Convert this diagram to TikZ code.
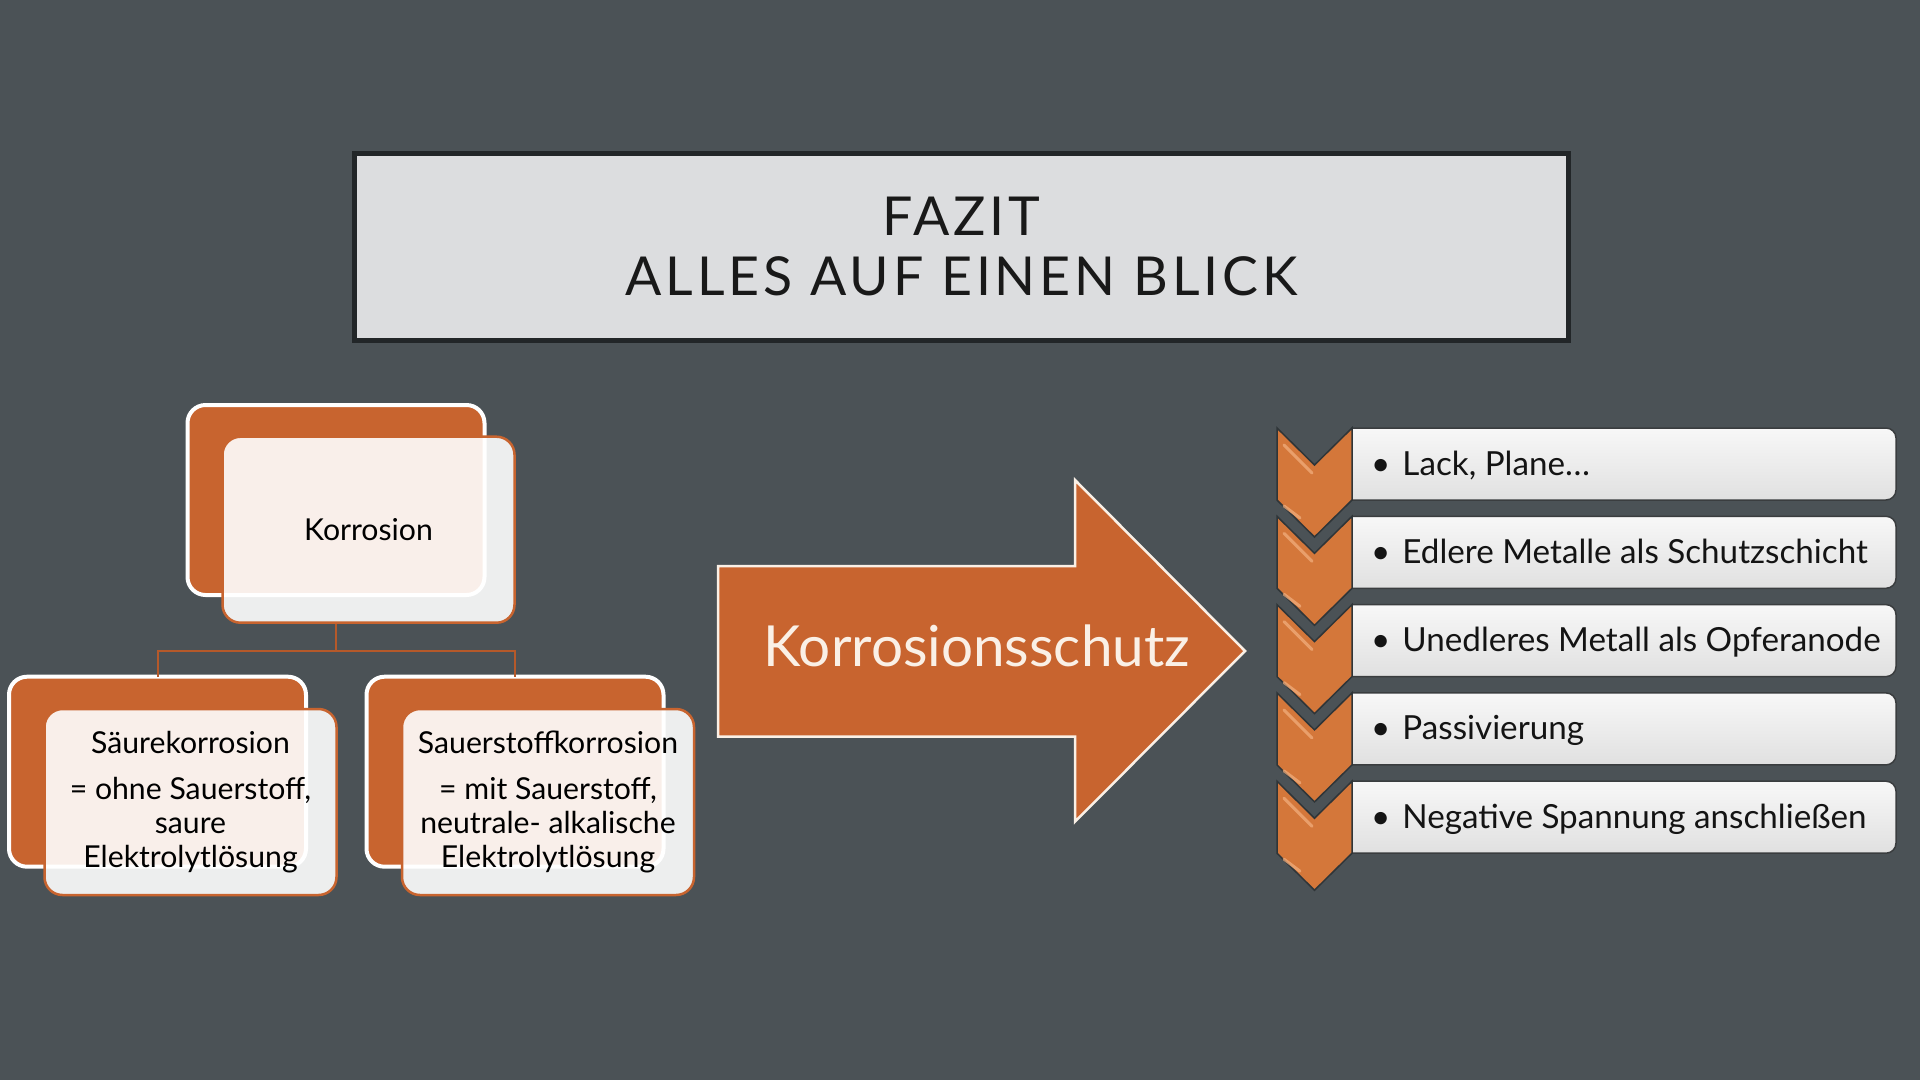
\documentclass[tikz,border=0pt]{standalone}
\usepackage{fontspec}
\setmainfont{Lato}
\newfontfamily\titlefont[LetterSpace=7.2]{Lato}
\usetikzlibrary{calc}
\definecolor{bg}{HTML}{4B5256}
\definecolor{orng}{HTML}{C8642F}
\definecolor{chev}{HTML}{D4773A}
\definecolor{chevlight}{HTML}{F2B080}
\definecolor{chevedge}{HTML}{2F3538}
\definecolor{titlefill}{HTML}{DCDDDF}
\definecolor{titleedge}{HTML}{222628}
\definecolor{conncol}{HTML}{B5592A}
\definecolor{cream}{HTML}{FAF0E6}
\definecolor{listedge}{HTML}{3A3D3F}
\tikzset{
  backbox/.style={draw=white, line width=4, fill=orng, rounded corners=18,
    inner sep=0, minimum width=297, minimum height=190},
  frontbox/.style={draw=orng, line width=2.5, fill=white, fill opacity=0.9,
    text opacity=1, rounded corners=18, inner sep=0, minimum width=292,
    minimum height=186, align=center, text=black,
    font=\fontsize{30.2}{34.3}\selectfont},
  conn/.style={draw=conncol, line width=2},
  arrowshape/.style={fill=orng, draw=cream, line width=2.5, line join=miter},
  titlebox/.style={draw=titleedge, line width=5, fill=titlefill, inner sep=0,
    minimum width=1214, minimum height=187, align=center, text=black!90,
    font=\titlefont\fontsize{53.7}{60}\selectfont},
  listbox/.style={draw=listedge, line width=1.5, top color=white!97!black,
    bottom color=white!88!black},
  chevshape/.style={draw=chevedge, line width=1.5, fill=chev, line join=miter},
  chevhl/.style={draw=chevlight, line width=3, opacity=0.7, line cap=round},
  listtext/.style={anchor=base west, inner sep=0, text=black!92,
    font=\fontsize{33.2}{36}\selectfont},
  arrowtext/.style={anchor=base, inner sep=0, text=cream,
    font=\fontsize{56.6}{64}\selectfont}
}
\begin{document}
\begin{tikzpicture}[x=1pt,y=1pt]
\fill[bg] (0,0) rectangle (1920,-1080);
\useasboundingbox (0,0) rectangle (1920,-1080);

% title
\node[titlebox] (title) at (961.5,-246.7) {FAZIT\\ALLES AUF EINEN BLICK};

% hierarchy
\node[backbox] (kback) at (336,-500) {};
\node[frontbox] (kfront) at (368.5,-529.7) {Korrosion};
\node[backbox] (sback) at (157.5,-771.7) {};
\node[frontbox] (sfront) at (190.5,-802) {S\"aurekorrosion\\[11.7pt]= ohne Sauerstoff,\\saure\\Elektrolytl\"osung};
\node[backbox] (oback) at (515,-771.7) {};
\node[frontbox] (ofront) at (548,-802) {Sauerstoffkorrosion\\[11.7pt]= mit Sauerstoff,\\neutrale- alkalische\\Elektrolytl\"osung};

\coordinate (kbot) at (kback.center |- kfront.south);
\coordinate (junction) at ($(kbot)+(0,-27.3)$);
\draw[conn] (kbot) -- (junction) -| ($(sback.north)+(0,-2)$);
\draw[conn] (junction) -| ($(oback.north)+(0,-2)$);

% arrow
\draw[arrowshape] (718,-566) -- (1075,-566) -- (1075,-480) -- (1245,-651)
  -- (1075,-821.7) -- (1075,-736.7) -- (718,-736.7) -- cycle;
\node[arrowtext] (schutz) at (976.75,-666.7) {Korrosionsschutz};

% list
\foreach \i/\txt in {0/{Lack, Plane…},1/{Edlere Metalle als Schutzschicht},2/{Unedleres Metall als Opferanode},3/{Passivierung},4/{Negative Spannung anschließen}}{
  \pgfmathsetmacro\t{-(428+\i*88.3)}
  \pgfmathsetmacro\b{\t-72}
  \draw[listbox] (1352,\t) -- (1886,\t) arc[start angle=90,end angle=0,radius=10]
     -- (1896,\b+10) arc[start angle=0,end angle=-90,radius=10] -- (1352,\b) -- cycle;
  \draw[chevshape] (1277,\t) -- (1314.5,\t-37) -- (1352,\t) -- (1352,\t-72)
     -- (1314.5,\t-109) -- (1277,\t-72) -- cycle;
  \draw[chevhl] (1284,\t-17) -- (1312,\t-45);
  \draw[chevhl] (1284,\t-78) -- (1300,\t-90);
  \node[listtext] (item\i) at (1371,\t-47) {•\hspace{12pt}\txt};
}
\end{tikzpicture}
\end{document}
